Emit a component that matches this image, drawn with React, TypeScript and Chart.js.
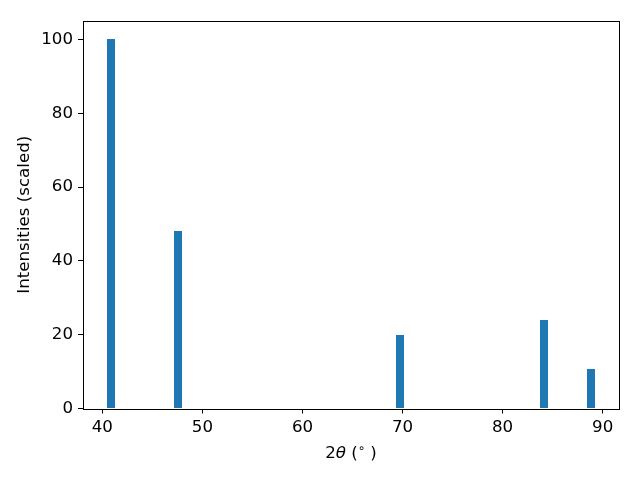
import React, { useEffect, useRef } from "react";
import { Chart, registerables } from "chart.js";

Chart.register(...registerables);

const TWO_THETA = [40.9, 47.6, 69.7, 84.1, 88.8];
const INTENSITY = [100, 48.2, 19.9, 24.0, 10.7];
const BAR_WIDTH = 0.8;
const X_TICKS = [40, 50, 60, 70, 80, 90];
const Y_TICKS = [0, 20, 40, 60, 80, 100];
const X_LABEL_PARTS = ["2", "θ", " (", "∘", " )"];
const Y_LABEL = "Intensities (scaled)";
const BAR_COLOR = "#1f77b4";
const FONT = "'DejaVu Sans', sans-serif";
const FS = 16.67;

export default function App() {
  const ref = useRef<HTMLCanvasElement | null>(null);

  useEffect(() => {
    if (!ref.current) return;
    const xLo = Math.min(...TWO_THETA) - BAR_WIDTH / 2;
    const xHi = Math.max(...TWO_THETA) + BAR_WIDTH / 2;
    const xm = (xHi - xLo) * 0.05;
    const yMax = Math.max(...INTENSITY) * 1.05;
    const sorted = [...TWO_THETA].sort((a, b) => a - b);
    let minGap = Infinity;
    for (let i = 1; i < sorted.length; i++) minGap = Math.min(minGap, sorted[i] - sorted[i - 1]);

    const snap = {
      id: "snap",
      beforeDatasetsDraw(chart: any) {
        chart.getSortedVisibleDatasetMetas().forEach((meta: any) => {
          meta.data.forEach((el: any) => {
            const w = Math.round(el.width);
            const left = Math.round(el.x - el.width / 2);
            el.width = w;
            el.x = left + w / 2;
            el.y = Math.round(el.y);
            el.base = Math.round(el.base);
          });
        });
      },
    };

    const frame = {
      id: "frame",
      afterDatasetsDraw(chart: any) {
        const { ctx, chartArea: a } = chart;
        ctx.save();
        ctx.strokeStyle = "#000";
        ctx.lineWidth = 1;
        ctx.strokeRect(Math.round(a.left) + 0.5, Math.round(a.top) + 0.5, Math.round(a.right - a.left), Math.round(a.bottom - a.top));
        ctx.restore();
      },
    };

    const xTitle = {
      id: "xTitle",
      afterDraw(chart: any) {
        const { ctx, chartArea: a } = chart;
        const reg = `${FS}px ${FONT}`;
        const ita = `italic ${FS}px ${FONT}`;
        const sup = `${FS * 0.7}px ${FONT}`;
        const fonts = [reg, ita, reg, sup, reg];
        ctx.save();
        ctx.fillStyle = "#000";
        ctx.textBaseline = "alphabetic";
        ctx.textAlign = "left";
        const widths = X_LABEL_PARTS.map((t, i) => {
          ctx.font = fonts[i];
          return ctx.measureText(t).width;
        });
        const total = widths.reduce((s, w) => s + w, 0);
        let x = (a.left + a.right) / 2 - total / 2;
        const base = 458;
        X_LABEL_PARTS.forEach((t, i) => {
          ctx.font = fonts[i];
          ctx.fillText(t, x, i === 3 ? base - 6 : base);
          x += widths[i];
        });
        ctx.restore();
      },
    };

    const chart = new Chart(ref.current, {
      type: "bar",
      data: {
        datasets: [
          {
            data: TWO_THETA.map((x, i) => ({ x, y: INTENSITY[i] })),
            backgroundColor: BAR_COLOR,
            borderWidth: 0,
            inflateAmount: 0,
            categoryPercentage: 1,
            barPercentage: BAR_WIDTH / minGap,
          },
        ],
      },
      options: {
        animation: false,
        responsive: false,
        layout: { padding: { left: 0, top: 21, right: 21, bottom: 0 } },
        plugins: { legend: { display: false }, tooltip: { enabled: false } },
        scales: {
          x: {
            type: "linear",
            min: xLo - xm,
            max: xHi + xm,
            offset: false,
            afterBuildTicks: (s: any) => {
              s.ticks = X_TICKS.map((v) => ({ value: v }));
            },
            afterFit: (s: any) => {
              s.height = 71.5;
            },
            grid: { offset: false, drawOnChartArea: false, drawTicks: true, tickLength: 5, color: "#000", lineWidth: 1 },
            border: { display: false },
            ticks: { color: "#000", font: { family: FONT, size: FS }, padding: 4, maxRotation: 0, autoSkip: false },
            title: { display: false },
          },
          y: {
            type: "linear",
            min: 0,
            max: yMax,
            afterBuildTicks: (s: any) => {
              s.ticks = Y_TICKS.map((v) => ({ value: v }));
            },
            afterFit: (s: any) => {
              s.width = 83;
            },
            grid: { drawOnChartArea: false, drawTicks: true, tickLength: 5, color: "#000", lineWidth: 1 },
            border: { display: false },
            ticks: { color: "#000", font: { family: FONT, size: FS }, padding: 5, autoSkip: false },
            title: { display: true, text: Y_LABEL, color: "#000", font: { family: FONT, size: FS }, padding: { top: 15, bottom: 0 } },
          },
        },
      },
      plugins: [snap, frame, xTitle],
    } as any);
    return () => chart.destroy();
  }, []);

  return (
    <div style={{ position: "fixed", left: 0, top: 0, width: 640, height: 480, background: "#fff" }}>
      <canvas ref={ref} width={640} height={480} />
    </div>
  );
}
